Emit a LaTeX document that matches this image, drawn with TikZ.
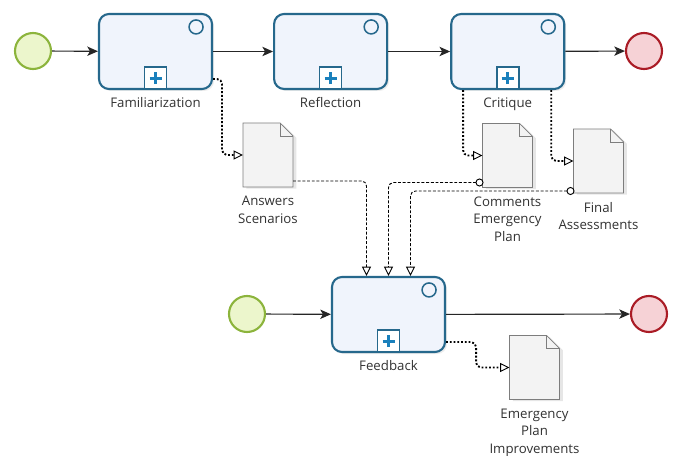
\documentclass[tikz,border=0pt]{standalone}
\usepackage{fontspec}
\setmainfont{Open Sans}
\usetikzlibrary{arrows.meta,positioning,shadows}

\definecolor{taskline}{RGB}{38,104,140}
\definecolor{taskfill}{RGB}{240,244,252}
\definecolor{startline}{RGB}{140,180,60}
\definecolor{startfill}{RGB}{236,246,204}
\definecolor{endline}{RGB}{170,28,38}
\definecolor{endfill}{RGB}{246,210,214}
\definecolor{docline}{RGB}{125,125,125}
\definecolor{docfill}{RGB}{243,243,243}
\definecolor{plusblue}{RGB}{26,128,188}
\definecolor{txt}{RGB}{50,50,50}

\tikzset{
  task/.style={rectangle, rounded corners=0.3cm, draw=taskline, line width=1.8pt, fill=taskfill,
    minimum width=3.39cm, minimum height=2.25cm, inner sep=0,
    drop shadow={opacity=0.15, shadow xshift=0.06cm, shadow yshift=-0.06cm}},
  startev/.style={circle, draw=startline, line width=1.8pt, fill=startfill, minimum size=1.08cm, inner sep=0},
  endev/.style={circle, draw=endline, line width=1.8pt, fill=endfill, minimum size=1.08cm, inner sep=0},
  doc/.style={rectangle, minimum width=1.5cm, minimum height=1.92cm, inner sep=0, outer sep=0},
  docshape/.style={draw=docline, fill=docfill, line width=0.6pt,
    drop shadow={opacity=0.2, shadow xshift=0.1cm, shadow yshift=-0.05cm}},
  docfold/.style={draw=docline, line width=0.6pt},
  taskring/.style={draw=taskline, line width=1.3pt},
  plusbox/.style={draw=taskline, line width=1.3pt, fill=white},
  plussign/.style={draw=plusblue, line width=2.6pt},
  lbl/.style={inner sep=0, font=\fontsize{11.3}{15}\selectfont, text=txt, align=center},
  flow/.style={-{Stealth[length=0.32cm, width=0.28cm, inset=0.08cm]}, line width=1pt, draw=black!85},
  dataflow/.style={line width=1.6pt, dash pattern=on 1.6pt off 1.6pt, rounded corners=0.15cm,
    -{Triangle[fill=white, length=0.28cm, width=0.27cm, line width=0.8pt]}},
  msgflow/.style={line width=0.8pt, dash pattern=on 2.5pt off 1.5pt, rounded corners=0.15cm,
    -{Triangle[fill=white, length=0.28cm, width=0.27cm, line width=0.8pt]}},
  msgcirc/.style={msgflow, {Circle[fill=white, length=0.24cm, line width=0.8pt]}-{Triangle[fill=white, length=0.28cm, width=0.27cm, line width=0.8pt]}}
}

\begin{document}
\begin{tikzpicture}[x=0.03cm, y=-0.03cm]
  \useasboundingbox (0,0) rectangle (675,456);

  % first lane
  \node(start) [startev] at (33,51) {};
  \node(fam) [task] at (155.5,51.5) {};
  \node(refl) [task, right=1.8cm of fam] {};
  \node(crit) [task, right=1.86cm of refl] {};
  \node(stop) [endev] at (644,51) {};
  \node(famtxt) [lbl, below=0.21cm of fam] {Familiarization};
  \node(refltxt) [lbl, below=0.21cm of refl] {Reflection};
  \node(crittxt) [lbl, below=0.21cm of crit] {Critique};

  % second lane
  \node(fbstart) [startev] at (247,314) {};
  \node(fb) [task] at (388.5,314.5) {};
  \node(fbstop) [endev] at (649,314) {};
  \node(fbtxt) [lbl, below=0.2cm of fb] {Feedback};

  \foreach \t in {fam,refl,crit,fb} {
    \draw[taskring] ([shift={(-17,14)}]\t.north east) circle[radius=0.21cm];
    \draw[plusbox] ([shift={(-11,-1)}]\t.south) rectangle ([shift={(11,-23)}]\t.south);
    \draw[plussign] ([shift={(0,-6)}]\t.south) -- ([shift={(0,-18)}]\t.south)
      ([shift={(-6,-12)}]\t.south) -- ([shift={(6,-12)}]\t.south);
  }

  % documents
  \node(ans) [doc] at (268,155) {};
  \node(com) [doc] at (507.5,155.5) {};
  \node(fin) [doc] at (598.5,161) {};
  \node(imp) [doc] at (534.5,367.5) {};
  \foreach \d in {ans,com,fin,imp} {
    \path[docshape] (\d.south west) -- (\d.south east) -- ([shift={(0,13)}]\d.north east)
      -- ([shift={(-13,0)}]\d.north east) -- (\d.north west) -- cycle;
    \draw[docfold] ([shift={(-13,0)}]\d.north east) |- ([shift={(0,13)}]\d.north east);
  }
  \node(anstxt) [lbl, below=0.27cm of ans] {Answers\\Scenarios};
  \node(comtxt) [lbl, below=0.27cm of com] {Comments\\Emergency\\Plan};
  \node(fintxt) [lbl, below=0.27cm of fin] {Final\\Assessments};
  \node(imptxt) [lbl, below=0.27cm of imp] {Emergency\\Plan\\Improvements};

  % sequence flows
  \draw[flow] (start) -- (fam);
  \draw[flow] (fam) -- (refl);
  \draw[flow] (refl) -- (crit);
  \draw[flow] (crit) -- (stop);
  \draw[flow] (fbstart) -- (fb);
  \draw[flow] (fb) -- (fbstop);

  % data associations
  \draw[dataflow] ([shift={(0,-11)}]fam.south east) -- ++(9,0) |- (ans.west);
  \draw[dataflow] ([shift={(13,0)}]crit.south west) |- (com.west);
  \draw[dataflow] ([shift={(-14,0)}]crit.south east) |- (fin.west);
  \draw[dataflow] ([shift={(0,-11)}]fb.south east) -- ++(30,0) |- (imp.west);

  % message flows
  \draw[msgflow] ([shift={(0,-6)}]ans.south east) -| ([shift={(-22,0)}]fb.north);
  \draw[msgcirc] ([shift={(1,-5)}]com.south west) -| (fb.north);
  \draw[msgcirc] ([shift={(1,-2)}]fin.south west) -| ([shift={(22,0)}]fb.north);
\end{tikzpicture}
\end{document}
